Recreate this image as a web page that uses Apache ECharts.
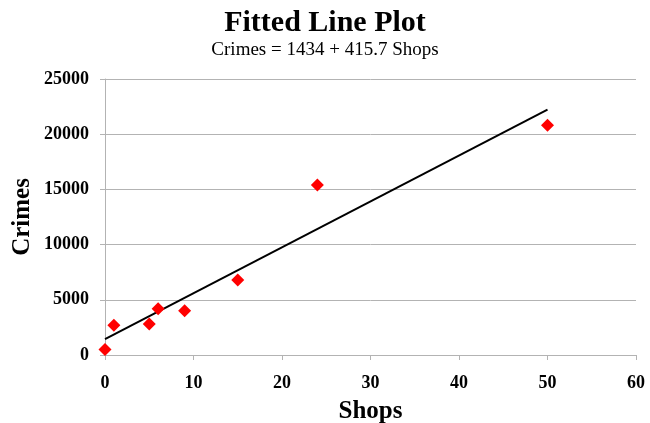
<!DOCTYPE html>
<html>
<head>
<meta charset="utf-8">
<script src="https://cdn.jsdelivr.net/npm/echarts@6/dist/echarts.min.js"></script>
<style>
  html, body { margin: 0; padding: 0; background: #fff; }
  #chart { width: 650px; height: 423px; }
</style>
</head>
<body>
<div id="chart"></div>
<script>
// Observed data: number of shops vs recorded crimes
const shops = [0, 1, 5, 6, 9, 15, 24, 50];
const crimes = [500, 2700, 2800, 4200, 4000, 6800, 15400, 20800];

// Regression fit: Crimes = 1434 + 415.7 Shops
const intercept = 1434;
const slope = 415.7;
const fitX = [0, 50];

const xTicks = [0, 10, 20, 30, 40, 50, 60];
const yTicks = [0, 5000, 10000, 15000, 20000, 25000];

const serif = '"Liberation Serif", "Times New Roman", serif';
const gray = '#b3b3b3';

const points = shops.map((s, i) => [s, crimes[i]]);
const fitLine = fitX.map(x => [x, intercept + slope * x]);

const chart = echarts.init(document.getElementById('chart'));
chart.setOption({
  animation: false,
  title: {
    text: 'Fitted Line Plot',
    subtext: 'Crimes = ' + intercept + ' + ' + slope + ' Shops',
    left: 'center',
    top: 3,
    itemGap: 3,
    textStyle: { fontFamily: serif, fontWeight: 'bold', fontSize: 30, color: '#000' },
    subtextStyle: { fontFamily: serif, fontSize: 19, color: '#000' }
  },
  grid: { left: 105, right: 14, top: 79, bottom: 68, containLabel: false, outerBoundsMode: 'none' },
  xAxis: {
    type: 'value',
    min: xTicks[0],
    max: xTicks[xTicks.length - 1],
    interval: 10,
    name: 'Shops',
    nameLocation: 'middle',
    nameGap: 44,
    nameMoveOverlap: false,
    nameTextStyle: { fontFamily: serif, fontWeight: 'bold', fontSize: 25, color: '#000' },
    axisLine: { lineStyle: { color: gray, width: 1 } },
    axisTick: { show: true, length: 5, lineStyle: { color: gray } },
    axisLabel: { fontFamily: serif, fontWeight: 'bold', fontSize: 18, color: '#000', margin: 19,
      formatter: v => String(v) },
    splitLine: { show: false }
  },
  yAxis: {
    type: 'value',
    min: yTicks[0],
    max: yTicks[yTicks.length - 1],
    interval: 5000,
    name: 'Crimes',
    nameLocation: 'middle',
    nameGap: 70,
    nameMoveOverlap: false,
    nameTextStyle: { fontFamily: serif, fontWeight: 'bold', fontSize: 25, color: '#000' },
    axisLine: { show: true, lineStyle: { color: gray, width: 1 } },
    axisTick: { show: true, length: 5, lineStyle: { color: gray } },
    axisLabel: { fontFamily: serif, fontWeight: 'bold', fontSize: 18, color: '#000', margin: 16,
      formatter: v => String(v) },
    splitLine: { show: true, lineStyle: { color: gray, width: 1 } }
  },
  series: [
    {
      type: 'line',
      data: fitLine,
      symbol: 'none',
      lineStyle: { color: '#000', width: 2 },
      z: 2
    },
    {
      type: 'scatter',
      data: points,
      symbol: 'diamond',
      symbolSize: 13,
      itemStyle: { color: '#ff0000', opacity: 1 },
      z: 3
    }
  ]
});
</script>
</body>
</html>
